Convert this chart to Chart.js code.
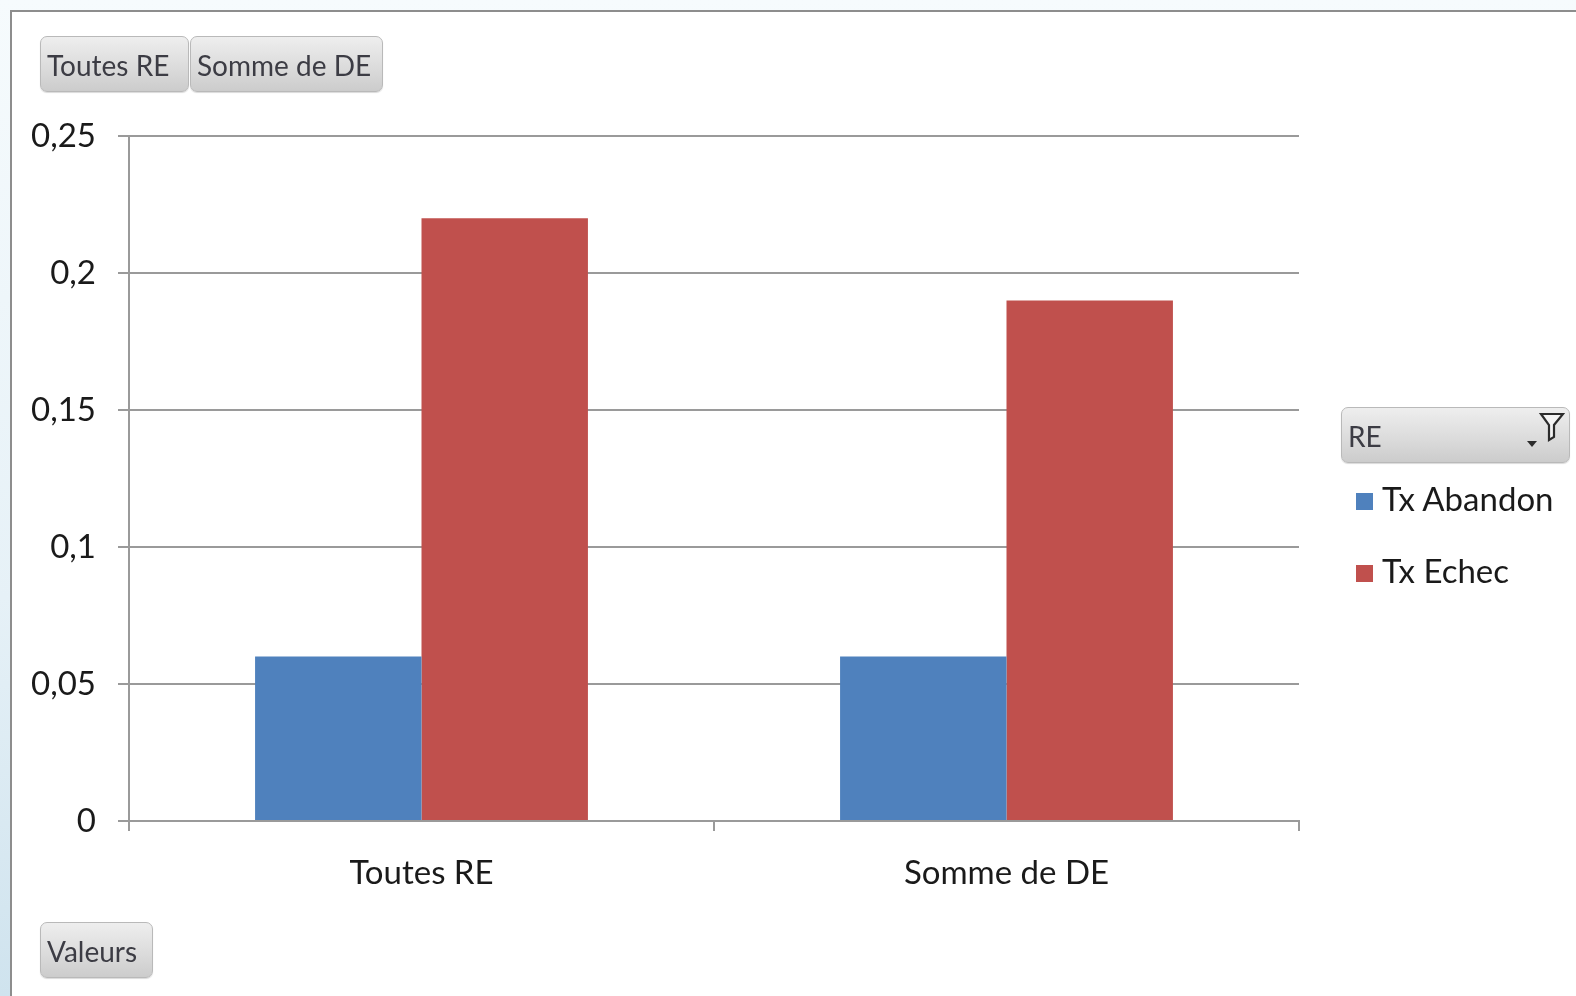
<!DOCTYPE html>
<html>
<head>
<meta charset="utf-8">
<script src="https://cdn.jsdelivr.net/npm/chart.js@4"></script>
<style>
  html, body { margin: 0; padding: 0; }
  body {
    width: 1576px; height: 996px; position: relative; overflow: hidden;
    background: linear-gradient(to bottom, #f6fbfd 0%, #e6f1f7 60%, #cfe3ee 100%);
    font-family: Lato, "DejaVu Sans Condensed", sans-serif;
  }
  #frame {
    position: absolute; left: 10px; top: 10px; width: 1600px; height: 1000px;
    background: #fff; border-left: 2px solid #8d8d8d; border-top: 2px solid #8d8d8d;
    box-sizing: border-box;
  }
  #chart { position: absolute; left: 0; top: 0; }
  .btn {
    position: absolute; box-sizing: border-box; height: 56px; white-space: nowrap;
    border: 1px solid #b9b9b9; border-radius: 7px;
    background: linear-gradient(to bottom, #eeeeee 0%, #dcdcdc 55%, #cccccc 100%);
    color: #3c3c44; font-size: 28px; line-height: 56px; padding-left: 6px;
    box-shadow: 0 1px 1px rgba(0,0,0,0.15);
  }
  .legend-item { position: absolute; left: 1356px; font-size: 33px; color: #1a1a1a; height: 42px; line-height: 42px; white-space: nowrap; }
  .legend-item span { display: inline-block; width: 17px; height: 17px; margin-right: 9px; vertical-align: 1px; }
</style>
</head>
<body>
<div id="frame"></div>
<canvas id="chart" width="1576" height="996"></canvas>

<div class="btn" style="left:40px; top:36px; width:149px;">Toutes RE</div>
<div class="btn" style="left:190px; top:36px; width:193px;">Somme de DE</div>
<div class="btn" style="left:40px; top:922px; width:113px;">Valeurs</div>
<div class="btn" style="left:1341px; top:407px; width:229px;">RE
  <svg style="position:absolute; right:4px; top:3px;" width="44" height="38" viewBox="0 0 44 38">
    <path d="M20 3 L42 3 L33 14 L33 26 L28 29 L28 14 Z" fill="#f4f4f4" stroke="#2c2c2c" stroke-width="2.2"/>
    <path d="M6 30 L16 30 L11 36 Z" fill="#2c2c2c"/>
  </svg>
</div>
<div id="legend"></div>

<script>
const categories = ["Toutes RE", "Somme de DE"];
const seriesNames = ["Tx Abandon", "Tx Echec"];
const txAbandon = [0.06, 0.06];
const txEchec = [0.22, 0.19];
const seriesColors = ["#4f81bd", "#c0504d"];
const yTickLabels = ["0", "0,05", "0,1", "0,15", "0,2", "0,25"];

const font = "Lato, 'DejaVu Sans Condensed', sans-serif";
const gridColor = "#9a9a9a";

// legend built from the series arrays
const legend = document.getElementById("legend");
seriesNames.forEach((name, i) => {
  const item = document.createElement("div");
  item.className = "legend-item";
  item.style.top = (477 + i * 72) + "px";
  item.innerHTML = '<span style="background:' + seriesColors[i] + '"></span>' + name;
  legend.appendChild(item);
});

const ctx = document.getElementById("chart");

const chart = new Chart(ctx, {
  type: "bar",
  data: {
    labels: categories,
    datasets: [
      { label: seriesNames[0], data: txAbandon, backgroundColor: seriesColors[0] },
      { label: seriesNames[1], data: txEchec, backgroundColor: seriesColors[1] },
    ],
  },
  options: {
    responsive: false,
    animation: false,
    categoryPercentage: 0.569,
    barPercentage: 1.0,
    layout: {
      padding: { left: 10, top: 136, right: 277, bottom: 95 },
    },
    plugins: {
      legend: { display: false },
      tooltip: { enabled: false },
    },
    scales: {
      x: {
        afterFit: (scale) => { scale.height = 80; },
        grid: {
          offset: true,
          drawOnChartArea: false,
          tickLength: 10,
          color: gridColor,
          lineWidth: 2,
        },
        border: { color: gridColor, width: 2 },
        ticks: {
          padding: 23,
          color: "#1a1a1a",
          font: { family: font, size: 33 },
        },
      },
      y: {
        min: 0,
        max: 0.25,
        afterFit: (scale) => { scale.width = 119; },
        grid: { color: gridColor, lineWidth: 2, tickLength: 11 },
        border: { color: gridColor, width: 2 },
        ticks: {
          stepSize: 0.05,
          padding: 22,
          color: "#1a1a1a",
          font: { family: font, size: 33 },
          callback: (value, index) => yTickLabels[index],
        },
      },
    },
  },
});
</script>
</body>
</html>
